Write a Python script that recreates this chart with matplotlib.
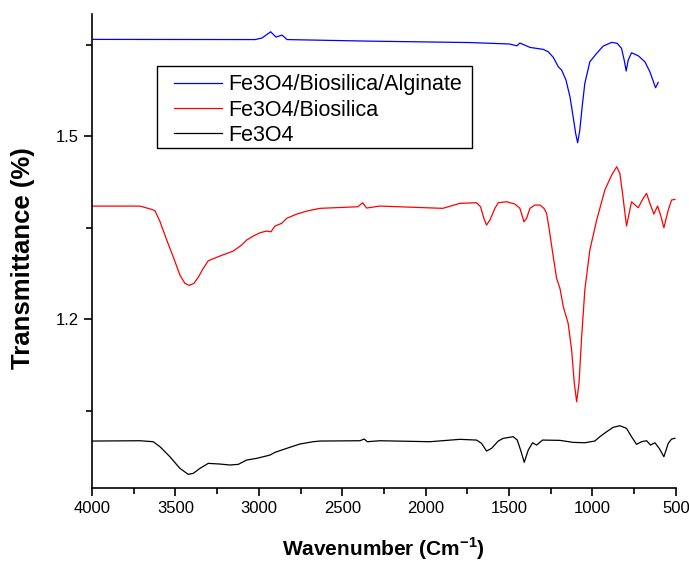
import matplotlib.pyplot as plt
from matplotlib.patches import Rectangle
from matplotlib.ticker import MultipleLocator

plt.rcParams['font.family'] = ['Liberation Sans', 'DejaVu Sans']

# Fe3O4/Biosilica/Alginate
wn_alg = [4000, 3023, 2981, 2929, 2897, 2861, 2831, 2352, 1735, 1500, 1453, 1435,
          1375, 1295, 1265, 1235, 1205, 1185, 1159, 1135, 1116, 1101, 1089, 1076,
          1062, 1046, 1016, 975, 936, 885, 852, 826, 810, 798, 786, 766, 726, 686,
          656, 622, 606]
tr_alg = [1.6585, 1.6582, 1.6607, 1.671, 1.6623, 1.6656, 1.6582, 1.6557, 1.6533, 1.651,
          1.648, 1.6525, 1.6454, 1.6421, 1.6382, 1.6290, 1.6136, 1.6082, 1.5918, 1.5644,
          1.5316, 1.5044, 1.4890, 1.5098, 1.5480, 1.5864, 1.6218, 1.6356, 1.6475, 1.6536,
          1.6520, 1.6438, 1.6246, 1.6066, 1.6246, 1.6366, 1.6317, 1.6218, 1.6054, 1.5792,
          1.5880]

# Fe3O4/Biosilica
wn_bio = [4000, 3712, 3642, 3622, 3592, 3552, 3513, 3473, 3443, 3417, 3389, 3363,
          3333, 3303, 3233, 3153, 3103, 3073, 3033, 2993, 2953, 2927, 2903, 2863,
          2833, 2773, 2713, 2634, 2406, 2378, 2354, 2274, 1897, 1795, 1695, 1671,
          1651, 1635, 1615, 1585, 1565, 1515, 1465, 1435, 1411, 1395, 1375, 1345,
          1315, 1291, 1275, 1260, 1235, 1215, 1195, 1175, 1146, 1125, 1109, 1095,
          1081, 1065, 1046, 1016, 975, 926, 885, 855, 836, 820, 796, 766, 726, 696,
          676, 656, 632, 610, 592, 572, 546, 526, 506]
tr_bio = [1.3852, 1.3852, 1.3798, 1.3775, 1.3595, 1.3295, 1.3021, 1.2721, 1.2585, 1.2552,
          1.2585, 1.2684, 1.2831, 1.2956, 1.3033, 1.3115, 1.3213, 1.3295, 1.3361, 1.3415,
          1.3443, 1.3431, 1.3525, 1.3569, 1.3651, 1.3721, 1.3770, 1.3815, 1.3841, 1.3907,
          1.382, 1.3852, 1.3815, 1.3897, 1.3907, 1.3841, 1.3651, 1.3541, 1.3623, 1.3815,
          1.3907, 1.3923, 1.3885, 1.3815, 1.3595, 1.3651, 1.3815, 1.3869, 1.3869, 1.3815,
          1.3733, 1.3480, 1.3021, 1.2667, 1.2503, 1.2202, 1.1930, 1.1492, 1.0946, 1.0644,
          1.0946, 1.1710, 1.2475, 1.3131, 1.3623, 1.4115, 1.4361, 1.4497, 1.4388, 1.4060,
          1.3525, 1.3923, 1.3825, 1.3979, 1.4060, 1.3897, 1.3721, 1.3852, 1.3705, 1.3497,
          1.3787, 1.3951, 1.3962]

# Fe3O4
wn_fe = [4000, 3712, 3633, 3592, 3533, 3473, 3423, 3393, 3353, 3303, 3233, 3173,
         3123, 3073, 3013, 2933, 2903, 2833, 2754, 2674, 2634, 2394, 2368, 2350,
         2274, 1974, 1795, 1695, 1665, 1635, 1605, 1565, 1535, 1475, 1451, 1431,
         1409, 1385, 1359, 1335, 1299, 1195, 1116, 1046, 986, 956, 915, 876, 836,
         796, 766, 736, 706, 676, 652, 626, 600, 572, 546, 526, 506]
tr_fe = [1.0, 1.0005, 0.9989, 0.9906, 0.9743, 0.9552, 0.9454, 0.9470, 0.9552, 0.9634,
         0.9623, 0.9607, 0.9618, 0.9689, 0.9716, 0.977, 0.9815, 0.9880, 0.9951, 0.9989,
         1.0, 1.0005, 1.0033, 0.9989, 1.0005, 0.9989, 1.0028, 1.0016, 0.9962, 0.9836,
         0.9880, 1.0, 1.0044, 1.0071, 1.0016, 0.9852, 0.9651, 0.9852, 0.9972, 0.9934,
         1.0016, 1.0011, 0.9978, 0.9972, 1.0, 1.0071, 1.0153, 1.0225, 1.0251, 1.0208,
         1.0071, 0.9946, 0.9989, 1.0005, 0.9934, 0.9972, 0.9880, 0.9743, 0.9962, 1.0033,
         1.0044]

fig = plt.figure(figsize=(6.89, 5.63), dpi=100)
ax = fig.add_axes([0.1335, 0.1332, 0.8475, 0.8418])

ax.plot(wn_alg, tr_alg, color='#0000ff', lw=0.9, label='Fe3O4/Biosilica/Alginate')
ax.plot(wn_bio, tr_bio, color='#ff0000', lw=0.9, label='Fe3O4/Biosilica')
ax.plot(wn_fe, tr_fe, color='black', lw=0.9, label='Fe3O4')

ax.set_xlim(4000, 500)
ax.set_ylim(0.923, 1.70)
ax.xaxis.set_major_locator(MultipleLocator(500))
ax.xaxis.set_minor_locator(MultipleLocator(250))
ax.set_yticks([1.2, 1.5])
ax.yaxis.set_minor_locator(MultipleLocator(0.15))
ax.yaxis.set_major_formatter(plt.FuncFormatter(lambda v, p: f'{v:.1f}'))

for s in ['top', 'right']:
    ax.spines[s].set_visible(False)
for s in ['left', 'bottom']:
    ax.spines[s].set_linewidth(1.2)
ax.tick_params(which='major', direction='out', length=6, width=1.2, labelsize=12)
ax.tick_params(which='minor', direction='out', length=4, width=1.2)

ax.set_xlabel('Wavenumber (Cm$^{\\mathregular{-1}}$)', fontsize=15, fontweight='bold', labelpad=14)
ax.set_ylabel('Transmittance (%)', fontsize=18.5, fontweight='bold')
ax.yaxis.set_label_coords(-0.097, 0.486)

# legend box drawn separately so the padding matches
fig.patches.append(Rectangle((0.2279, 0.7371), 0.4572, 0.1457, transform=fig.transFigure,
                             fill=False, edgecolor='black', linewidth=1.0))
ax.legend(loc='center left', bbox_to_anchor=(0.1404, 0.7975), borderaxespad=0, borderpad=0,
          fontsize=15.5, frameon=False, handlelength=2.23, handletextpad=0.28,
          labelspacing=0.2)

plt.savefig('out.png', dpi=100)
